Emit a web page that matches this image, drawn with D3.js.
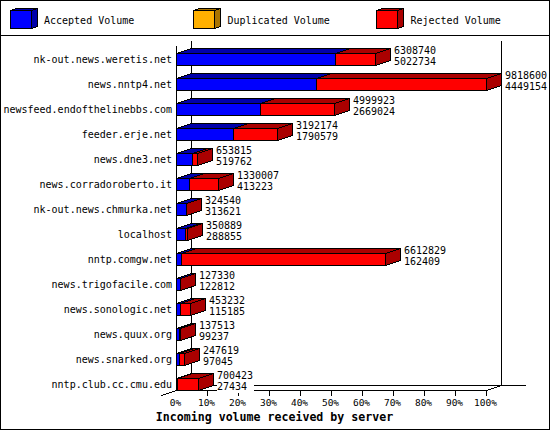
<!DOCTYPE html>
<html><head><meta charset="utf-8">
<script src="https://cdn.jsdelivr.net/npm/d3@7"></script>
<style>html,body{margin:0;padding:0;background:#fff}svg{display:block}</style>
</head><body><svg id="c" width="550" height="430"></svg>
<script>
const categories=["nk-out.news.weretis.net","news.nntp4.net","newsfeed.endofthelinebbs.com","feeder.erje.net","news.dne3.net","news.corradoroberto.it","nk-out.news.chmurka.net","localhost","nntp.comgw.net","news.trigofacile.com","news.sonologic.net","news.quux.org","news.snarked.org","nntp.club.cc.cmu.edu"];
const totals=[6308740,9818600,4999923,3192174,653815,1330007,324540,350889,6612829,127330,453232,137513,247619,700423];
const accepted=[5022734,4449154,2669024,1790579,519762,413223,313621,288855,162409,122812,115185,99237,97045,27434];
const legendLabels=["Accepted Volume","Duplicated Volume","Rejected Volume"];
const percentTicks=[0,10,20,30,40,50,60,70,80,90,100];
const xTitle="Incoming volume received by server";

const FRONT="#0000ff",TOPB="#0000aa",YEL="#ffb000",YELD="#aa7400",RED="#ff0000",REDD="#aa0000";
const svg=d3.select("#c");
const mono="'DejaVu Sans Mono','Liberation Mono',monospace";
const crisp=s=>s.attr("shape-rendering","crispEdges");
const pct=d3.scaleLinear().domain([0,100]).range([176.5,486.5]);
const xv=d3.scaleLinear().domain([0,d3.max(totals)]).range([176.5,486.5]);
const y=d3.scalePoint().domain(categories).range([59.5,384.5]);
const DX=15,DY=5,H=6;

crisp(svg.append("rect").attr("x",.5).attr("y",.5).attr("width",549).attr("height",429).attr("fill","#fff").attr("stroke","#000"));
crisp(svg.append("line").attr("x1",0).attr("x2",550).attr("y1",35.5).attr("y2",35.5).attr("stroke","#000"));

function poly(g,pts,fill){crisp(g.append("polygon").attr("points",pts.map(p=>p.join(",")).join(" ")).attr("fill",fill).attr("stroke","#000"));}

// legend
const legendBoxX=[10.5,193.5,376.5],legendTextX=[44,227.5,410.5];
const legendCols=[[FRONT,TOPB],[YEL,YELD],[RED,REDD]];
legendLabels.forEach((t,i)=>{
  const g=svg.append("g"),x=legendBoxX[i],[f,d]=legendCols[i];
  poly(g,[[x,10.5],[x+6,8.5],[x+27,8.5],[x+21,10.5]],d);
  poly(g,[[x+21,10.5],[x+27,8.5],[x+27,26.5],[x+21,28.5]],d);
  poly(g,[[x,10.5],[x+21,10.5],[x+21,28.5],[x,28.5]],f);
  g.append("text").attr("x",legendTextX[i]).attr("y",20).attr("dy","0.35em").attr("font-family",mono).attr("font-size",10).text(t);
});

// axes frame
const axis=svg.append("g").attr("stroke","#000");
const ln=(a,b,c,d)=>crisp(axis.append("line").attr("x1",a).attr("y1",b).attr("x2",c).attr("y2",d));
ln(191.5,40.5,191.5,385.5);
ln(501.5,40.5,501.5,385.5);
ln(191.5,385.5,525.5,385.5);
ln(176.5,45.5,176.5,390.5);
ln(176.5,390.5,486.5,390.5);
ln(161.5,395.5,176.5,390.5);
ln(486.5,390.5,501.5,385.5);
percentTicks.forEach(t=>{
  if(t>0)ln(pct(t),390.5,pct(t),395.5);
  svg.append("text").attr("x",pct(t)-1).attr("y",402.5).attr("dy","0.35em").attr("text-anchor","middle").attr("font-family",mono).attr("font-size",9.5).text(t+"%");
});
svg.append("text").attr("x",274.5).attr("y",417).attr("dy","0.35em").attr("text-anchor","middle").attr("font-family",mono).attr("font-weight","bold").attr("font-size",11.6).text(xTitle);

// bars
const bars=svg.append("g");
categories.forEach((c,i)=>{
  const g=bars.append("g"),cy=y(c),t=cy-H,b=cy+H;
  const x0=xv(0),x1=Math.round(xv(accepted[i])-.5)+.5,x2=Math.round(xv(totals[i])-.5)+.5;
  svg.append("text").attr("x",172).attr("y",cy).attr("dy","0.35em").attr("text-anchor","end").attr("font-family",mono).attr("font-size",10).text(c);
  const lab=svg.append("g");
  const lx=x2+DX+3.5;
  crisp(lab.append("rect").attr("x",lx-.5).attr("y",cy-15).attr("width",String(totals[i]).length*6+1).attr("height",23).attr("fill","#fff"));
  lab.append("text").attr("x",lx).attr("y",cy-9).attr("dy","0.35em").attr("font-family",mono).attr("font-size",10).text(totals[i]);
  lab.append("text").attr("x",lx).attr("y",cy+1.5).attr("dy","0.35em").attr("font-family",mono).attr("font-size",10).text(accepted[i]);
  poly(g,[[x0,t],[x0+DX,t-DY],[x1+DX,t-DY],[x1,t]],TOPB);
  poly(g,[[x0,t],[x1,t],[x1,b],[x0,b]],FRONT);
  poly(g,[[x1,t],[x1+DX,t-DY],[x2+DX,t-DY],[x2,t]],REDD);
  poly(g,[[x2,t],[x2+DX,t-DY],[x2+DX,b-DY],[x2,b]],REDD);
  poly(g,[[x1,t],[x2,t],[x2,b],[x1,b]],RED);
  g.raise();
});
</script></body></html>
